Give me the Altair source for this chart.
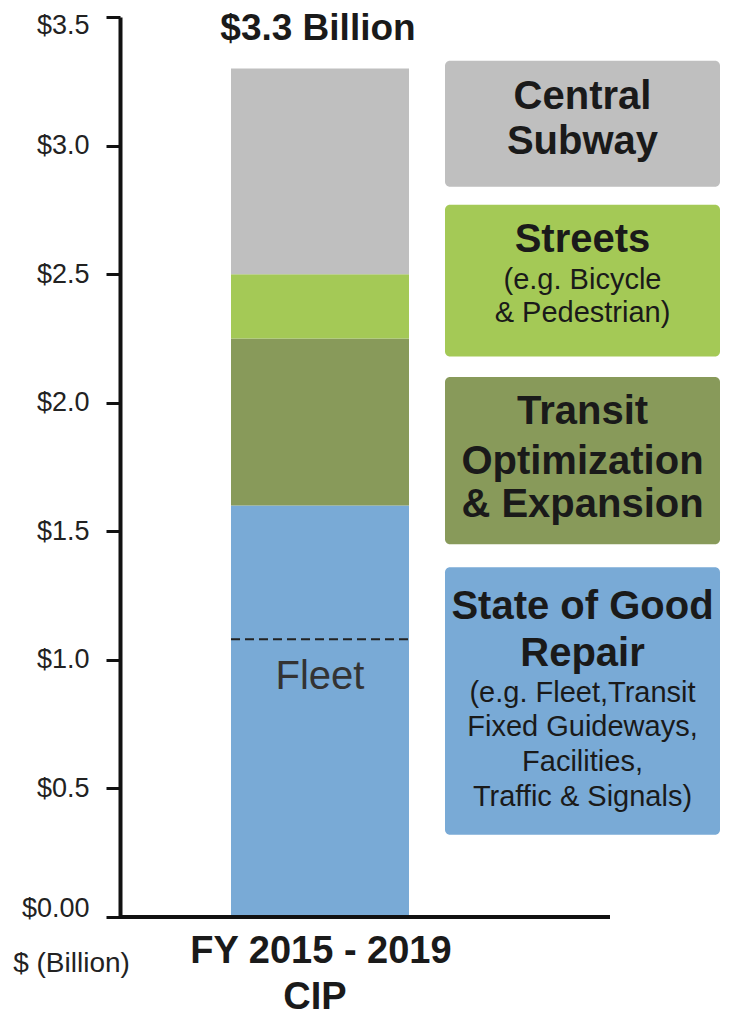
import altair as alt
import pandas as pd

# ---- data ----
categories = ["State of Good Repair", "Transit Optimization & Expansion", "Streets", "Central Subway"]
values = [1.6, 0.65, 0.25, 0.8]          # $ billion, stacked bottom -> top
colors = ["#79aad6", "#889a5a", "#a4c956", "#bfbfbf"]
fleet_value = 1.08
total_label = "$3.3 Billion"
x_label_lines = ["FY 2015 - 2019", "CIP"]
y_ticks = [0, 0.5, 1.0, 1.5, 2.0, 2.5, 3.0, 3.5]
y_tick_labels = ["$0.00", "$0.5", "$1.0", "$1.5", "$2.0", "$2.5", "$3.0", "$3.5"]
y_title = "$ (Billion)"

legend_heads = [["Central", "Subway"], ["Streets"], ["Transit", "Optimization", "& Expansion"], ["State of Good", "Repair"]]
legend_subs = [[], ["(e.g. Bicycle", "& Pedestrian)"], [], ["(e.g. Fleet,Transit", "Fixed Guideways,", "Facilities,", "Traffic & Signals)"]]
legend_order = ["Central Subway", "Streets", "Transit Optimization & Expansion", "State of Good Repair"]

# ---- layout (positions in scale units) ----
BAR_X = (111, 289)
AXIS_END = 490
BOX_X = (325, 600)
BOX_Y = [(2.84, 3.33), (2.18, 2.77), (1.45, 2.10), (0.32, 1.36)]
HEAD_Y = [[3.19, 3.015], [2.634], [1.965, 1.77, 1.603], [1.205, 1.022]]
SUB_Y = [[], [2.479, 2.35], [], [0.871, 0.739, 0.603, 0.467]]

FONT = "Liberation Sans"
TXT = "#1a1a1a"

# stacked bar table
rows = []
acc = 0.0
for c, v in zip(categories, values):
    rows.append({"category": c, "y0": acc, "y1": acc + v, "x0": BAR_X[0], "x1": BAR_X[1]})
    acc += v
bars_df = pd.DataFrame(rows)
total = acc
center_x = (BAR_X[0] + BAR_X[1]) / 2

boxes_df = pd.DataFrame([
    {"category": c, "y0": b[0], "y1": b[1], "x0": BOX_X[0], "x1": BOX_X[1]}
    for c, b in zip(legend_order, BOX_Y)
])
bx = (BOX_X[0] + BOX_X[1]) / 2
head_df = pd.DataFrame([
    {"t": t, "y": y, "x": bx}
    for lines, ys in zip(legend_heads, HEAD_Y) for t, y in zip(lines, ys)
])
sub_df = pd.DataFrame([
    {"t": t, "y": y, "x": bx}
    for lines, ys in zip(legend_subs, SUB_Y) for t, y in zip(lines, ys)
])

xscale = alt.Scale(domain=[0, 600])
yscale = alt.Scale(domain=[0, 3.5], nice=False, zero=True)
cscale = alt.Scale(domain=categories, range=colors)

label_expr = ""
for v, lab in zip(y_ticks, y_tick_labels):
    label_expr += f"datum.value == {v} ? '{lab}' : "
label_expr += "''"

yaxis = alt.Axis(
    values=y_ticks, labelExpr=label_expr, grid=False,
    domainColor="#111", domainWidth=4, tickColor="#111", tickWidth=3, tickSize=14,
    labelFontSize=27, labelColor="#222", labelFont=FONT, labelPadding=17,
    labelFlush=True, labelFlushOffset=5,
    title=y_title, titleAngle=0, titleX=-49, titleY=946, titleAlign="center",
    titleBaseline="middle", titleFontWeight="normal", titleFontSize=28,
    titleFont=FONT, titleColor="#222",
)

bars = alt.Chart(bars_df).mark_rect().encode(
    x=alt.X("x0:Q", scale=xscale, axis=None), x2="x1:Q",
    y=alt.Y("y0:Q", scale=yscale, axis=yaxis), y2="y1:Q",
    color=alt.Color("category:N", scale=cscale, legend=None),
)

boxes = alt.Chart(boxes_df).mark_rect(cornerRadius=5).encode(
    x=alt.X("x0:Q", scale=xscale), x2="x1:Q",
    y=alt.Y("y0:Q", scale=yscale), y2="y1:Q",
    color=alt.Color("category:N", scale=cscale, legend=None),
)

heads = alt.Chart(head_df).mark_text(
    font=FONT, fontSize=40, fontWeight="bold", color=TXT, baseline="middle", align="center"
).encode(x=alt.X("x:Q", scale=xscale), y=alt.Y("y:Q", scale=yscale), text="t:N")

subs = alt.Chart(sub_df).mark_text(
    font=FONT, fontSize=29, color=TXT, baseline="middle", align="center"
).encode(x=alt.X("x:Q", scale=xscale), y=alt.Y("y:Q", scale=yscale), text="t:N")

fleet_df = pd.DataFrame([{"y": fleet_value, "x0": BAR_X[0], "x1": BAR_X[1], "xc": center_x, "t": "Fleet"}])
fleet_rule = alt.Chart(fleet_df).mark_rule(color="#222", strokeWidth=2, strokeDash=[9, 5]).encode(
    x=alt.X("x0:Q", scale=xscale), x2="x1:Q", y=alt.Y("y:Q", scale=yscale)
)
fleet_text = alt.Chart(fleet_df).mark_text(
    font=FONT, fontSize=40, color="#333", baseline="middle", align="center", dy=38
).encode(x=alt.X("xc:Q", scale=xscale), y=alt.Y("y:Q", scale=yscale), text="t:N")

title_df = pd.DataFrame([{"y": total, "xc": center_x - 2, "t": total_label}])
title_text = alt.Chart(title_df).mark_text(
    font=FONT, fontSize=37, fontWeight="bold", color=TXT, baseline="middle", align="center", dy=-39
).encode(x=alt.X("xc:Q", scale=xscale), y=alt.Y("y:Q", scale=yscale), text="t:N")

axis_df = pd.DataFrame([{"y": 0, "x0": 0, "x1": AXIS_END}])
x_axis_line = alt.Chart(axis_df).mark_rule(color="#111", strokeWidth=4).encode(
    x=alt.X("x0:Q", scale=xscale), x2="x1:Q", y=alt.Y("y:Q", scale=yscale)
)

xl_df = pd.DataFrame([{"y": 0, "xc": center_x + (1 if i == 0 else -5), "t": t, "i": i}
                      for i, t in enumerate(x_label_lines)])
xl1 = alt.Chart(xl_df[xl_df.i == 0]).mark_text(
    font=FONT, fontSize=38, fontWeight="bold", color=TXT, baseline="middle", align="center", dy=35
).encode(x=alt.X("xc:Q", scale=xscale), y=alt.Y("y:Q", scale=yscale), text="t:N")
xl2 = alt.Chart(xl_df[xl_df.i == 1]).mark_text(
    font=FONT, fontSize=38, fontWeight="bold", color=TXT, baseline="middle", align="center", dy=81
).encode(x=alt.X("xc:Q", scale=xscale), y=alt.Y("y:Q", scale=yscale), text="t:N")

chart = alt.layer(
    bars, boxes, fleet_rule, fleet_text, title_text, heads, subs, x_axis_line, xl1, xl2
).properties(
    width=600, height=900,
    autosize=alt.AutoSizeParams(type="none"),
    padding={"left": 112, "top": 9, "right": 5, "bottom": 100},
).configure(background="white").configure_view(stroke=None)

chart.save("out.html", embed_options={"renderer": "svg", "actions": False})
